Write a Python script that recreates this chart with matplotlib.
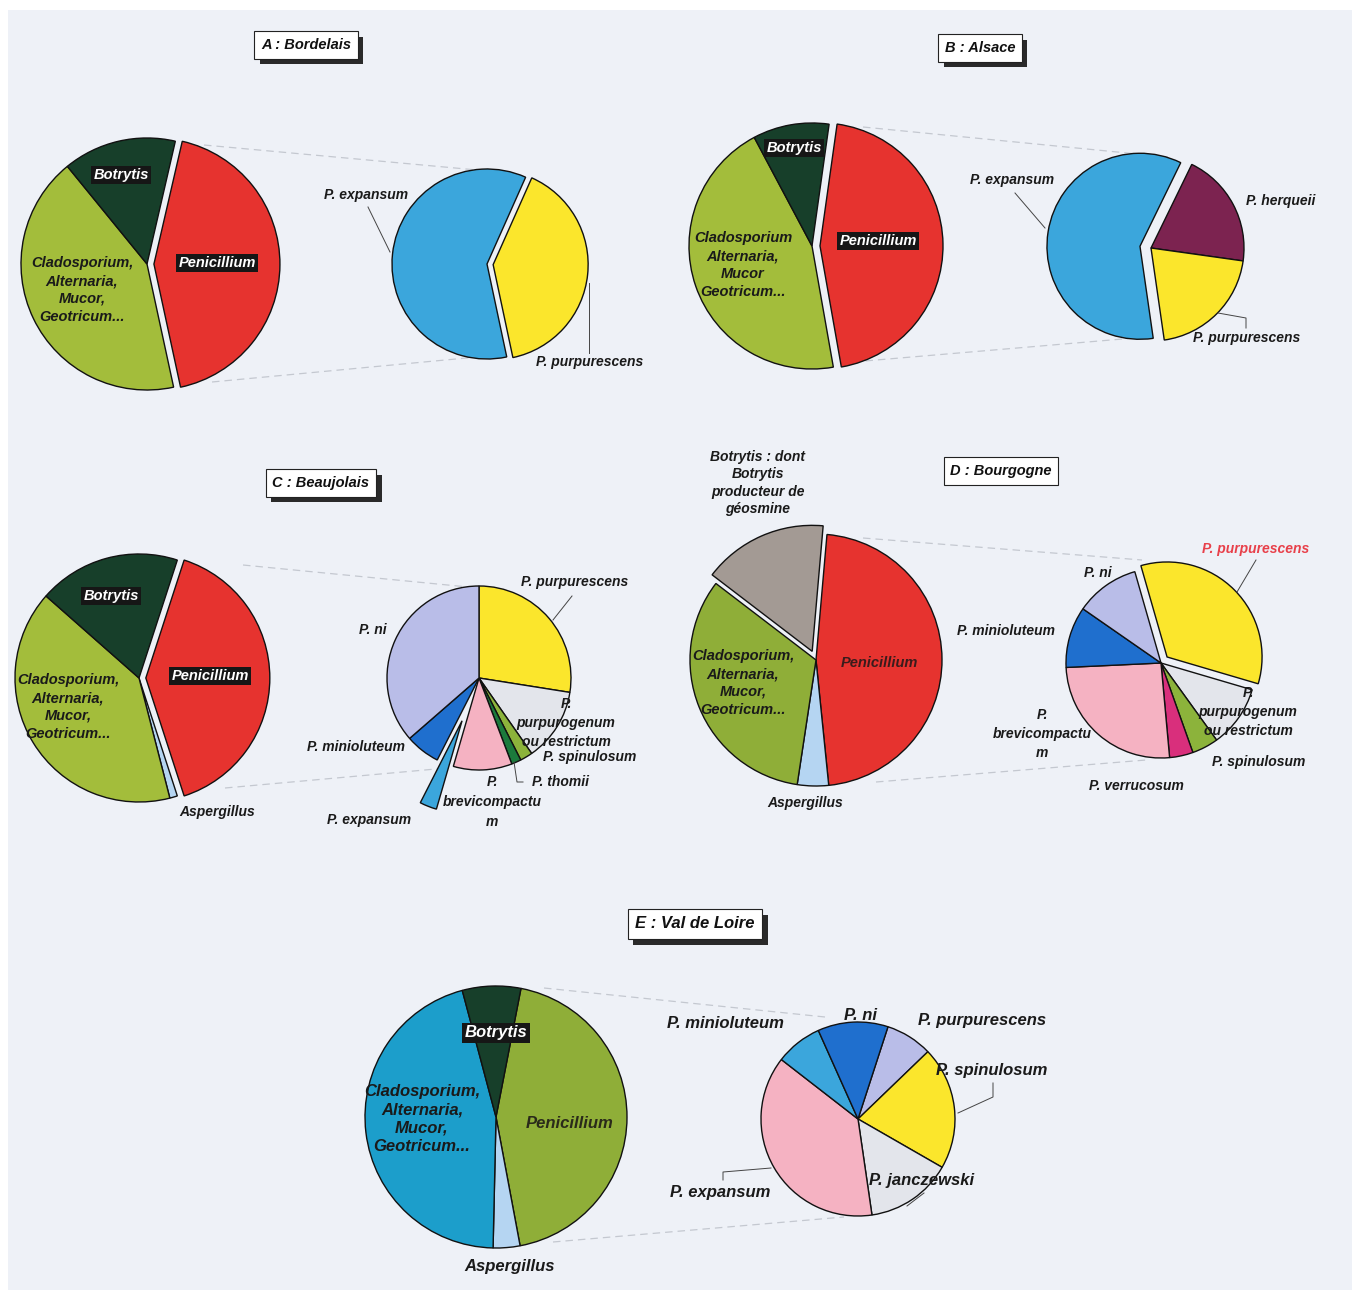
import matplotlib
matplotlib.use('Agg')
import matplotlib.pyplot as plt
from matplotlib import patheffects
from matplotlib.patches import Rectangle

W, H = 1357, 1294
BG = '#eef1f7'

# colours
RED = '#e6332f'; GREEN = '#a3bd3b'; OLIVE = '#8fae38'; DKGREEN = '#173f2a'
SKY = '#3ba6dc'; YELLOW = '#fbe62c'; PURPLE = '#7c2350'; LAVENDER = '#b9bde8'
LTGRAY = '#e3e5eb'; PINK = '#f5b2c2'; BLUE = '#1f6fce'; THOMII = '#1b7a3c'
SPIN = '#8cb33b'; MAGENTA = '#d92f7c'; ASP = '#b5d5f2'; TAUPE = '#a39a94'; TEAL = '#1c9ecb'

# --- data: share of isolates (%), clockwise order ---
a_main_names = ['Penicillium', 'Cladosporium', 'Botrytis']
a_main = [43, 42.5, 14.5]
a_pen_names = ['P. purpurescens', 'P. expansum']
a_pen = [40, 60]

b_main_names = ['Penicillium', 'Cladosporium', 'Botrytis']
b_main = [45, 45, 10]
b_pen_names = ['P. herqueii', 'P. purpurescens', 'P. expansum']
b_pen = [20, 20.5, 59.5]

c_main_names = ['Penicillium', 'Aspergillus', 'Cladosporium', 'Botrytis']
c_main = [40, 1, 40.5, 18.5]
c_pen_names = ['P. purpurescens', 'P. purpurogenum ou restrictum', 'P. spinulosum',
               'P. thomii', 'P. brevicompactum', 'P. expansum', 'P. minioluteum', 'P. ni']
c_pen = [27.5, 12.8, 2.2, 1.7, 10.3, 3.0, 6.1, 36.4]

d_main_names = ['Penicillium', 'Aspergillus', 'Cladosporium', 'Botrytis']
d_main = [47, 4, 33, 16]
d_pen_names = ['P. purpurescens', 'P. purpurogenum ou restrictum', 'P. spinulosum',
               'P. verrucosum', 'P. brevicompactum', 'P. minioluteum', 'P. ni']
d_pen = [34, 10.5, 4.5, 4, 25.7, 10.4, 10.9]

e_main_names = ['Penicillium', 'Aspergillus', 'Cladosporium', 'Botrytis']
e_main = [44, 3.3, 45.5, 7.2]
e_pen_names = ['P. purpurescens', 'P. spinulosum', 'P. janczewski',
               'P. expansum', 'P. minioluteum', 'P. ni']
e_pen = [7.8, 20.5, 14.4, 37.8, 7.8, 11.7]

FONT = dict(family='Liberation Sans', style='italic', weight='bold')
S_IN, S_OUT, S_E = 10.5, 10, 12

fig = plt.figure(figsize=(W / 100, H / 100), dpi=100, facecolor='white')
ax = fig.add_axes([0, 0, 1, 1])


def Y(y):
    return H - y


def pie(values, colors, cx, cy, r, start, explode=None):
    # pie() offsets exploded wedges in data units, so scale by the radius
    if explode is not None:
        explode = [e * r for e in explode]
    ax.pie(values, colors=colors, center=(cx, Y(cy)), radius=r, startangle=start,
           counterclock=False, explode=explode,
           wedgeprops=dict(edgecolor='#111111', linewidth=1.0))


def label(x, y, s, size=S_IN, color='#1a1a1a', box=False, ls=1.35):
    kw = dict(ha='center', va='center', fontsize=size, color=color,
              linespacing=ls, multialignment='center', zorder=5, **FONT)
    if box:
        kw['color'] = 'white'
        kw['bbox'] = dict(boxstyle='square,pad=0.15', fc='#161616', ec='none')
    ax.text(x, Y(y), s, **kw)


def lines_of(x, y0, step, parts, size=S_OUT):
    # wrapped label written line by line
    for i, s in enumerate(parts):
        label(x, y0 + i * step, s, size=size)


def line(pts, dashed=False):
    xs = [p[0] for p in pts]
    ys = [Y(p[1]) for p in pts]
    if dashed:
        ax.plot(xs, ys, color='#c4c8d0', lw=0.9, ls=(0, (6, 4)), zorder=0)
    else:
        ax.plot(xs, ys, color='#444444', lw=0.7, zorder=4)


def title(x, y, s, size=10.5, shadow=True):
    t = ax.text(x, Y(y), s, ha='center', va='center', fontsize=size, zorder=6,
                color='#111111',
                bbox=dict(boxstyle='square,pad=0.45', fc='white', ec='#222222', lw=0.8),
                **FONT)
    if shadow:
        t.get_bbox_patch().set_path_effects([
            patheffects.SimplePatchShadow(offset=(4, -4), shadow_rgbFace='#2a2a2a', alpha=1),
            patheffects.Normal()])


ax.add_patch(Rectangle((8, Y(1290)), 1344, 1280, fc=BG, ec='none', zorder=-1))

# ---------------- A : Bordelais ----------------
title(306, 45, 'A : Bordelais')
line([(204, 145), (477, 170)], dashed=True)
line([(212, 382), (477, 357)], dashed=True)
pie(a_main, [RED, GREEN, DKGREEN], 147, 264, 126, 77, explode=[0.055, 0, 0])
pie(a_pen, [YELLOW, SKY], 487, 264, 95, 66, explode=[0.065, 0])
label(121, 175, 'Botrytis', box=True)
label(217, 263, 'Penicillium', box=True)
label(82, 290, 'Cladosporium,\nAlternaria,\nMucor,\nGeotricum...')
label(366, 195, 'P. expansum', size=S_OUT)
label(590, 362, 'P. purpurescens', size=S_OUT)
line([(368, 207), (390, 252)])
line([(589, 283), (589, 353)])

# ---------------- B : Alsace ----------------
title(980, 48, 'B : Alsace')
line([(863, 127), (1168, 157)], dashed=True)
line([(853, 362), (1146, 337)], dashed=True)
pie(b_main, [RED, GREEN, DKGREEN], 812, 246, 123, 82, explode=[0.065, 0, 0])
pie(b_pen, [PURPLE, YELLOW, SKY], 1151, 248, 93, 64, explode=[0, 0, 0.12])
label(794, 148, 'Botrytis', box=True)
label(878, 241, 'Penicillium', box=True)
label(743, 265, 'Cladosporium\nAlternaria,\nMucor\nGeotricum...')
label(1012, 180, 'P. expansum', size=S_OUT)
label(1281, 201, 'P. herqueii', size=S_OUT)
label(1247, 338, 'P. purpurescens', size=S_OUT)
line([(1015, 193), (1045, 228)])
line([(1218, 313), (1246, 318), (1246, 328)])

# ---------------- C : Beaujolais ----------------
title(321, 483, 'C : Beaujolais')
line([(243, 565), (468, 587)], dashed=True)
line([(225, 788), (447, 768)], dashed=True)
pie(c_main, [RED, ASP, GREEN, DKGREEN], 139, 678, 124, 72, explode=[0.055, 0, 0, 0])
pie(c_pen, [YELLOW, LTGRAY, SPIN, THOMII, PINK, SKY, BLUE, LAVENDER],
    479, 678, 92, 90, explode=[0, 0, 0, 0, 0, 0.5, 0, 0])
label(111, 596, 'Botrytis', box=True)
label(210, 676, 'Penicillium', box=True)
label(68, 707, 'Cladosporium,\nAlternaria,\nMucor,\nGeotricum...')
label(217, 812, 'Aspergillus', size=S_OUT)
label(575, 582, 'P. purpurescens', size=S_OUT)
label(373, 630, 'P. ni', size=S_OUT)
lines_of(566, 704, 19, ['P.', 'purpurogenum', 'ou restrictum'])
label(590, 757, 'P. spinulosum', size=S_OUT)
label(560, 782, 'P. thomii', size=S_OUT)
lines_of(492, 782, 20, ['P.', 'brevicompactu', 'm'])
label(356, 747, 'P. minioluteum', size=S_OUT)
label(369, 820, 'P. expansum', size=S_OUT)
line([(572, 596), (553, 620)])
line([(514, 762), (517, 782), (523, 782)])

# ---------------- D : Bourgogne ----------------
title(1001, 471, 'D : Bourgogne', shadow=False)
line([(863, 538), (1142, 560)], dashed=True)
line([(876, 782), (1146, 760)], dashed=True)
pie(d_main, [RED, ASP, OLIVE, TAUPE], 816, 660, 126, 85, explode=[0, 0, 0, 0.075])
pie(d_pen, [YELLOW, LTGRAY, SPIN, MAGENTA, PINK, BLUE, LAVENDER],
    1161, 663, 95, 106, explode=[0.09, 0, 0, 0, 0, 0, 0])
label(758, 483, 'Botrytis : dont\nBotrytis\nproducteur de\ngéosmine', size=S_OUT, ls=1.3)
label(879, 663, 'Penicillium', color='#3a1c1c')
label(743, 683, 'Cladosporium,\nAlternaria,\nMucor,\nGeotricum...')
label(805, 803, 'Aspergillus', size=S_OUT)
label(1256, 549, 'P. purpurescens', size=S_OUT, color='#e8404a')
label(1098, 573, 'P. ni', size=S_OUT)
label(1006, 631, 'P. minioluteum', size=S_OUT)
lines_of(1248, 693, 19, ['P.', 'purpurogenum', 'ou restrictum'])
label(1259, 762, 'P. spinulosum', size=S_OUT)
label(1136, 786, 'P. verrucosum', size=S_OUT)
lines_of(1042, 715, 19, ['P.', 'brevicompactu', 'm'])
line([(1256, 560), (1237, 592)])

# ---------------- E : Val de Loire ----------------
title(695, 924, 'E : Val de Loire', size=12)
line([(544, 988), (825, 1017)], dashed=True)
line([(553, 1242), (844, 1217)], dashed=True)
pie(e_main, [OLIVE, ASP, TEAL, DKGREEN], 496, 1117, 131, 79)
pie(e_pen, [LAVENDER, YELLOW, LTGRAY, PINK, SKY, BLUE], 858, 1119, 97, 72)
label(496, 1033, 'Botrytis', size=S_E, box=True)
label(422, 1119, 'Cladosporium,\nAlternaria,\nMucor,\nGeotricum...', size=S_E, ls=1.3)
label(570, 1124, 'Penicillium', size=S_E, color='#2a2a1a')
label(510, 1266, 'Aspergillus', size=S_E)
label(725, 1024, 'P. minioluteum', size=S_E)
label(861, 1015, 'P. ni', size=S_E)
label(982, 1020, 'P. purpurescens', size=S_E)
label(992, 1070, 'P. spinulosum', size=S_E)
label(922, 1181, 'P. janczewski', size=S_E)
label(720, 1193, 'P. expansum', size=S_E)
line([(993, 1083), (993, 1097), (958, 1113)])
line([(924, 1193), (907, 1206)])
line([(723, 1180), (723, 1172), (771, 1168)])

ax.set_aspect('equal')
ax.set_xlim(0, W)
ax.set_ylim(0, H)
ax.axis('off')
fig.savefig('out.png', dpi=100, facecolor='white')
